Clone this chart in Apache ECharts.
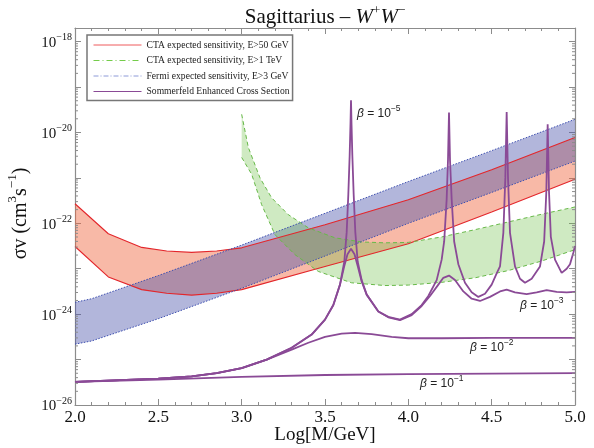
<!DOCTYPE html>
<html><head><meta charset="utf-8">
<script src="https://cdn.jsdelivr.net/npm/echarts@6/dist/echarts.min.js"></script>
<style>html,body{margin:0;padding:0;background:#fff}#c{width:594px;height:448px}</style>
</head><body><div id="c"></div>
<script>
// ---- data (x = log10(M/GeV), y = log10(sigma v / cm^3 s^-1)) ----
const ctaX     = [2.0, 2.2, 2.4, 2.55, 2.7, 2.85, 3.0, 3.5, 4.0, 4.5, 5.0];
const ctaUpper = [-21.57, -22.23, -22.53, -22.61, -22.64, -22.61, -22.54, -22.03, -21.48, -20.82, -20.11];
const ctaLower = [-22.51, -23.18, -23.46, -23.54, -23.58, -23.54, -23.46, -22.95, -22.45, -21.75, -21.03];

const fermiX     = [2.0, 2.1, 2.5, 3.0, 3.5, 4.0, 4.5, 5.0];
const fermiUpper = [-23.74, -23.66, -23.15, -22.48, -21.78, -21.08, -20.40, -19.71];
const fermiLower = [-24.66, -24.59, -24.10, -23.43, -22.72, -22.00, -21.32, -20.63];

const ctaTeVTopX = [3.0, 3.04, 3.11, 3.18, 3.28, 3.40, 3.56, 3.72, 3.86, 4.0, 4.2, 4.4, 4.6, 4.8, 5.0];
const ctaTeVTop  = [-19.6, -20.33, -21.0, -21.44, -21.81, -22.1, -22.32, -22.41, -22.43, -22.42, -22.3, -22.14, -21.97, -21.8, -21.64];
const ctaTeVBotX = [3.0, 3.06, 3.12, 3.2, 3.32, 3.46, 3.66, 3.86, 4.0, 4.2, 4.4, 4.6, 4.8, 5.0];
const ctaTeVBot  = [-20.55, -20.92, -21.59, -22.25, -22.69, -23.06, -23.31, -23.37, -23.36, -23.3, -23.2, -23.04, -22.83, -22.58];

const beta5X = [2.0,2.5,2.7,2.85,3.0,3.15,3.3,3.42,3.5,3.55,3.59,3.616,3.63,3.64,3.648,3.653,3.656,3.659,3.664,3.672,3.682,3.696,3.72,3.75,3.82,3.88,3.95,4.02,4.08,4.12,4.17,4.2,4.215,4.23,4.238,4.244,4.25,4.26,4.275,4.3,4.34,4.38,4.42,4.46,4.5,4.53,4.55,4.57,4.582,4.59,4.598,4.61,4.64,4.67,4.70,4.74,4.79,4.815,4.828,4.836,4.844,4.855,4.88,4.92,4.95,4.97,4.99,5.0];
const beta5Y = [-25.49,-25.42,-25.37,-25.30,-25.19,-25.0,-24.74,-24.45,-24.12,-23.8,-23.35,-22.84,-22.2,-21.36,-20.5,-19.8,-19.29,-19.8,-20.5,-21.36,-22.2,-22.84,-23.25,-23.57,-23.94,-24.06,-24.12,-24.0,-23.8,-23.6,-23.25,-22.8,-22.4,-21.47,-20.6,-19.56,-20.6,-21.47,-22.4,-22.9,-23.31,-23.52,-23.62,-23.55,-23.35,-23.1,-22.95,-22.21,-21.0,-19.55,-21.0,-22.21,-22.95,-23.22,-23.31,-23.22,-22.95,-22.4,-21.3,-19.82,-21.3,-22.3,-22.8,-23.09,-23.0,-22.9,-22.65,-22.5];

const beta3X = [2.0,2.5,2.7,2.85,3.0,3.15,3.3,3.42,3.5,3.55,3.59,3.615,3.635,3.656,3.677,3.697,3.72,3.75,3.82,3.88,3.95,4.02,4.08,4.13,4.18,4.21,4.244,4.28,4.33,4.38,4.43,4.49,4.55,4.59,4.64,4.71,4.77,4.83,4.89,4.95,5.0];
const beta3Y = [-25.49,-25.42,-25.37,-25.30,-25.19,-25.0,-24.74,-24.45,-24.12,-23.8,-23.35,-22.95,-22.68,-22.56,-22.68,-22.95,-23.28,-23.57,-23.94,-24.07,-24.13,-24.02,-23.82,-23.6,-23.35,-23.2,-23.15,-23.25,-23.5,-23.66,-23.71,-23.62,-23.5,-23.46,-23.52,-23.56,-23.52,-23.47,-23.51,-23.52,-23.51];

const beta2X = [2.0,2.5,2.7,2.85,3.0,3.15,3.3,3.4,3.5,3.6,3.68,3.78,3.9,4.0,4.2,4.5,5.0];
const beta2Y = [-25.49,-25.42,-25.37,-25.30,-25.19,-25.0,-24.78,-24.63,-24.5,-24.43,-24.41,-24.44,-24.5,-24.53,-24.53,-24.52,-24.52];

const beta1X = [2.0, 2.5, 3.0, 3.5, 4.0, 4.5, 5.0];
const beta1Y = [-25.49, -25.44, -25.38, -25.34, -25.32, -25.31, -25.30];

const xTicks = [2.0, 5.0, 0.5];          // min, max, step
const yDecades = [-26, -17.7];            // log10 range of the axis
const betaLabels = ['−5', '−3', '−2', '−1'];

const NAME_CTA = 'CTA expected sensitivity, E>50 GeV';
const NAME_TEV = 'CTA expected sensitivity, E>1 TeV';
const NAME_FERMI = 'Fermi expected sensitivity, E>3 GeV';
const NAME_SOM = 'Sommerfeld Enhanced Cross Section';

// ---- helpers ----
const zip = (xs, ys) => xs.map((x, i) => [x, ys[i]]);
const SERIF = '"Liberation Serif","DejaVu Serif",serif';
const SANS = '"Liberation Sans",Arial,sans-serif';
const AX = '#8c8c8c';

function band(xT, yT, xB, yB, fill, z) {
  return {
    type: 'custom', silent: true, z: z, data: [[xT[0], yT[0]]],
    renderItem: (params, api) => {
      const pts = [];
      for (let i = 0; i < xT.length; i++) pts.push(api.coord([xT[i], yT[i]]));
      for (let i = xB.length - 1; i >= 0; i--) pts.push(api.coord([xB[i], yB[i]]));
      return { type: 'polygon', shape: { points: pts }, style: { fill: fill } };
    }
  };
}
function line(name, xs, ys, color, width, type, z) {
  return { type: 'line', name: name, data: zip(xs, ys), symbol: 'none', z: z, silent: true,
    lineStyle: { color: color, width: width, type: type }, itemStyle: { color: color } };
}

// log minor tick positions (axis decoration)
const minorY = [];
for (let n = Math.floor(yDecades[0]); n < Math.ceil(yDecades[1]); n++) {
  for (let k = 2; k <= 9; k++) { const v = n + Math.log10(k); if (v < yDecades[1]) minorY.push(v); }
}

const chart = echarts.init(document.getElementById('c'), null, { renderer: 'canvas' });
const RED = '#e3262b', BLUE = '#3d4fb0', GREEN = '#67b948', PURPLE = '#8a4a96';
const hideSym = { opacity: 0, borderWidth: 0 };

chart.setOption({
  animation: false,
  backgroundColor: '#fff',
  grid: { left: 75, right: 19, top: 28, bottom: 43, outerBoundsMode: 'none', containLabel: false },
  xAxis: [{
    type: 'value', min: xTicks[0], max: xTicks[1], interval: xTicks[2],
    name: 'Log[M/GeV]', nameLocation: 'middle', nameGap: 21, nameMoveOverlap: false,
    nameTextStyle: { fontFamily: SERIF, fontSize: 19, color: '#111' },
    axisLine: { show: true, onZero: false, lineStyle: { color: AX, width: 1.2 } },
    axisTick: { inside: true, length: 6, lineStyle: { color: AX } },
    minorTick: { show: true, splitNumber: 5, length: 3, lineStyle: { color: AX } },
    splitLine: { show: false },
    axisLabel: { margin: 4, fontFamily: SERIF, fontSize: 17, color: '#111', formatter: v => v.toFixed(1) }
  }, {
    type: 'value', position: 'top', min: xTicks[0], max: xTicks[1], interval: xTicks[2],
    axisLine: { show: true, onZero: false, lineStyle: { color: AX, width: 1.2 } },
    axisTick: { inside: true, length: 6, lineStyle: { color: AX } },
    minorTick: { show: true, splitNumber: 5, length: 3, lineStyle: { color: AX } },
    splitLine: { show: false }, axisLabel: { show: false }
  }],
  yAxis: [{
    type: 'value', min: yDecades[0], max: yDecades[1], interval: 1,
    name: '{n|σv (cm}{s|3}{n|s}{s|−1}{n|)}', nameLocation: 'middle', nameGap: 37,
    nameTextStyle: { padding: [0, 0, 0, 6], rich: {
      n: { fontFamily: SERIF, fontSize: 20, color: '#111', lineHeight: 24, verticalAlign: 'bottom' },
      s: { fontFamily: SERIF, fontSize: 13, color: '#111', lineHeight: 24, verticalAlign: 'top' } } },
    axisLine: { show: true, onZero: false, lineStyle: { color: AX, width: 1.2 } },
    axisTick: { inside: true, length: 6, lineStyle: { color: AX } },
    splitLine: { show: false },
    axisLabel: { margin: 3,
      formatter: v => { const r = Math.round(v); if (Math.abs(v - r) > 1e-6 || r % 2 !== 0) return ''; return '{b|10}{s|−' + (-r) + '}'; },
      rich: {
        b: { fontFamily: SERIF, fontSize: 15, color: '#111', lineHeight: 18, verticalAlign: 'bottom' },
        s: { fontFamily: SERIF, fontSize: 10, color: '#111', lineHeight: 18, verticalAlign: 'top' } } }
  }, {
    type: 'value', position: 'right', min: yDecades[0], max: yDecades[1], interval: 1,
    axisLine: { show: true, onZero: false, lineStyle: { color: AX, width: 1.2 } },
    axisTick: { inside: true, length: 6, lineStyle: { color: AX } },
    splitLine: { show: false }, axisLabel: { show: false }
  }],
  legend: {
    orient: 'vertical', left: 87, top: 35, padding: [5, 3, 4, 6],
    itemWidth: 48, itemHeight: 12, itemGap: 5.5,
    backgroundColor: '#fff', borderColor: '#777', borderWidth: 1.5,
    textStyle: { fontFamily: SERIF, fontSize: 9.6, color: '#222' },
    selectedMode: false,
    data: [
      { name: NAME_CTA, itemStyle: hideSym, lineStyle: { color: '#ee5a5c', width: 1, type: 'solid' } },
      { name: NAME_TEV, itemStyle: hideSym, lineStyle: { color: '#74cc4a', width: 1, type: [6, 3, 1, 3] } },
      { name: NAME_FERMI, itemStyle: hideSym, lineStyle: { color: '#8d9ad8', width: 1, type: [5, 2, 1, 2] } },
      { name: NAME_SOM, itemStyle: hideSym, lineStyle: { color: PURPLE, width: 1, type: 'solid' } }
    ]
  },
  graphic: [
    { type: 'text', x: 325, y: 16, z: 100, style: {
      text: '{n|Sagittarius – }{i|W}{s|+}{i|W}{s|−}', align: 'center', verticalAlign: 'middle',
      rich: {
        n: { fontFamily: SERIF, fontSize: 21, fill: '#111', lineHeight: 24, verticalAlign: 'bottom' },
        i: { fontFamily: SERIF, fontSize: 21, fontStyle: 'italic', fill: '#111', lineHeight: 24, verticalAlign: 'bottom' },
        s: { fontFamily: SERIF, fontSize: 13, fill: '#111', lineHeight: 24, verticalAlign: 'top' } } } },
    ...[[357, 112], [520, 304], [470, 346], [420, 382]].map((p, i) => ({
      type: 'text', x: p[0], y: p[1], z: 100, style: {
        text: '{b|β}{t| = 10}{s|' + betaLabels[i] + '}', align: 'left', verticalAlign: 'middle',
        rich: {
          b: { fontFamily: SANS, fontSize: 12, fontStyle: 'italic', fill: '#222', lineHeight: 16, verticalAlign: 'bottom' },
          t: { fontFamily: SANS, fontSize: 12, fill: '#222', lineHeight: 16, verticalAlign: 'bottom' },
          s: { fontFamily: SANS, fontSize: 8.5, fill: '#222', lineHeight: 16, verticalAlign: 'top' } } } }))
  ],
  series: [
    band(ctaX, ctaUpper, ctaX, ctaLower, 'rgba(240,100,60,0.45)', 1),
    band(fermiX, fermiUpper, fermiX, fermiLower, 'rgba(72,80,170,0.42)', 1),
    band(ctaTeVTopX, ctaTeVTop, ctaTeVBotX, ctaTeVBot, 'rgba(110,190,70,0.33)', 1),
    line(NAME_CTA, ctaX, ctaUpper, RED, 1.1, 'solid', 3),
    line(NAME_CTA, ctaX, ctaLower, RED, 1.1, 'solid', 3),
    line(NAME_TEV, ctaTeVTopX, ctaTeVTop, GREEN, 1, [4, 3], 3),
    line(NAME_TEV, ctaTeVBotX, ctaTeVBot, GREEN, 1, [4, 3], 3),
    line(NAME_FERMI, fermiX, fermiUpper, BLUE, 1, [1.5, 1.5], 3),
    line(NAME_FERMI, fermiX, fermiLower, BLUE, 1, [1.5, 1.5], 3),
    line(NAME_SOM, beta1X, beta1Y, PURPLE, 1.8, 'solid', 4),
    line(NAME_SOM, beta2X, beta2Y, PURPLE, 1.8, 'solid', 4),
    line(NAME_SOM, beta3X, beta3Y, PURPLE, 1.8, 'solid', 4),
    line(NAME_SOM, beta5X, beta5Y, PURPLE, 1.8, 'solid', 4),
    {
      type: 'custom', silent: true, z: 5, data: [[2, -26]],
      renderItem: (params, api) => {
        const children = [];
        minorY.forEach(v => {
          const l = api.coord([xTicks[0], v]), r = api.coord([xTicks[1], v]);
          children.push({ type: 'line', shape: { x1: l[0], y1: l[1], x2: l[0] + 3, y2: l[1] }, style: { stroke: AX, lineWidth: 1 } });
          children.push({ type: 'line', shape: { x1: r[0], y1: r[1], x2: r[0] - 3, y2: r[1] }, style: { stroke: AX, lineWidth: 1 } });
        });
        return { type: 'group', children: children };
      }
    }
  ]
});
</script>
</body></html>
